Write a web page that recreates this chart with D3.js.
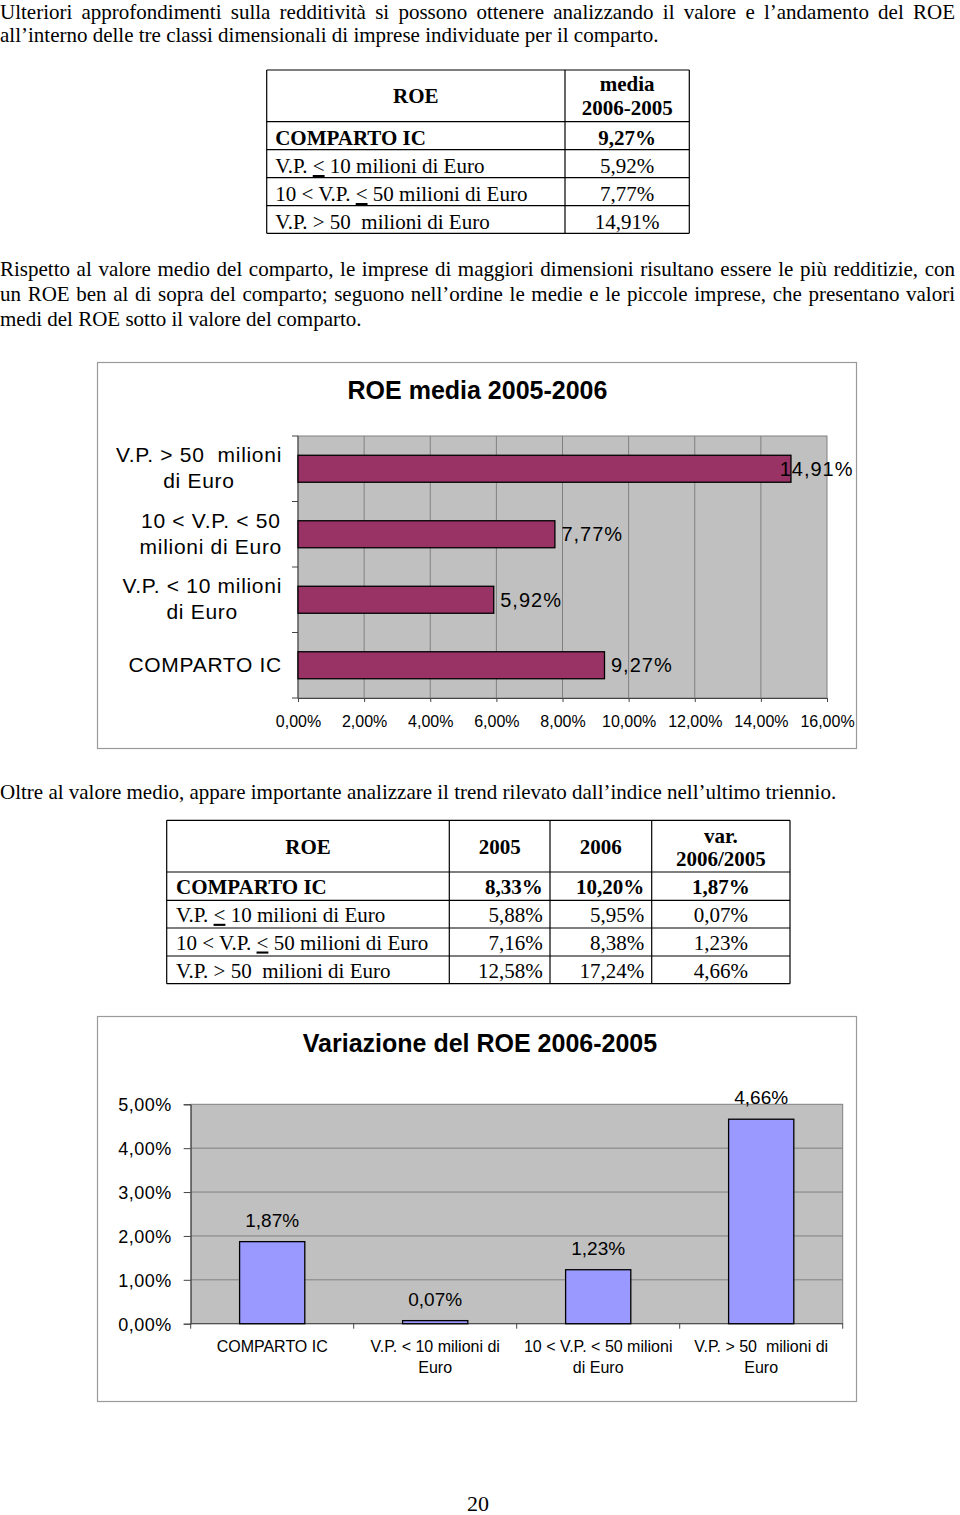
<!DOCTYPE html>
<html>
<head>
<meta charset="utf-8">
<script src="https://cdn.jsdelivr.net/npm/d3@7"></script>
<style>
  html, body { margin: 0; padding: 0; background: #fff; }
  svg { display: block; }
  text { white-space: pre; }
</style>
</head>
<body>
<svg id="page" width="960" height="1515"></svg>
<script>
// ---------------- DATA ----------------
const tableCategories = ["COMPARTO IC", "V.P. ≤ 10 milioni di Euro", "10 < V.P. ≤ 50 milioni di Euro", "V.P. > 50  milioni di Euro"];
const chartCategories = ["COMPARTO IC", "V.P. < 10 milioni di Euro", "10 < V.P. < 50 milioni di Euro", "V.P. > 50  milioni di Euro"];
const roeMedia = [9.27, 5.92, 7.77, 14.91];
const roe2005 = [8.33, 5.88, 7.16, 12.58];
const roe2006 = [10.20, 5.95, 8.38, 17.24];
const roeVar = [1.87, 0.07, 1.23, 4.66];
const xTicksChart1 = [0, 2, 4, 6, 8, 10, 12, 14, 16];
const yTicksChart2 = [0, 1, 2, 3, 4, 5];
const table1Header = ["ROE", "media\n2006-2005"];
const table2Header = ["ROE", "2005", "2006", "var.\n2006/2005"];
const chart1Title = "ROE media 2005-2006";
const chart2Title = "Variazione del ROE 2006-2005";
const para1 = ["Ulteriori approfondimenti sulla redditività si possono ottenere analizzando il valore e l’andamento del ROE",
               "all’interno delle tre classi dimensionali di imprese individuate per il comparto."];
const para2 = ["Rispetto al valore medio del comparto, le imprese di maggiori dimensioni risultano essere le più redditizie, con",
               "un ROE ben al di sopra del comparto; seguono nell’ordine le medie e le piccole imprese, che presentano valori",
               "medi del ROE sotto il valore del comparto."];
const para3 = ["Oltre al valore medio, appare importante analizzare il trend rilevato dall’indice nell’ultimo triennio."];
const pageNumber = "20";

// ---------------- SETUP ----------------
const SERIF = "'Liberation Serif', 'Times New Roman', serif";
const SANS = "'Liberation Sans', Arial, sans-serif";
const locale = d3.formatLocale({decimal: ",", thousands: ".", grouping: [3], currency: ["", "€"]});
const pct = v => locale.format(".2%")(v / 100);

const svg = d3.select("#page");
const meas = svg.append("text").attr("x", -1000).attr("y", -1000);
function measure(str, size, weight, family, ls) {
  meas.attr("font-size", size).attr("font-weight", weight || "normal")
      .attr("font-family", family).attr("letter-spacing", ls || 0).text(str);
  return meas.node().getComputedTextLength();
}
function wrap(str, maxW, size, family, ls) {
  const words = str.split(" ");
  const lines = [];
  let cur = words[0];
  for (let i = 1; i < words.length; i++) {
    const test = cur + " " + words[i];
    if (words[i] === "" || measure(test.trimEnd(), size, "normal", family, ls) <= maxW) cur = test;
    else { lines.push(cur.trimEnd()); cur = words[i]; }
  }
  lines.push(cur);
  return lines;
}

// ---------------- PARAGRAPHS ----------------
const P_SIZE = 21;
function drawPara(lines, baseline0, lineH, justifyW) {
  lines.forEach((ln, i) => {
    const t = svg.append("text").attr("x", 0).attr("y", baseline0 + i * lineH)
      .attr("font-family", SERIF).attr("font-size", P_SIZE).attr("fill", "#000").text(ln);
    if (justifyW && i < lines.length - 1) {
      const w = t.node().getComputedTextLength();
      if (w > justifyW) {
        t.attr("textLength", justifyW).attr("lengthAdjust", "spacingAndGlyphs");
      } else {
        const spaces = (ln.match(/ /g) || []).length;
        t.attr("word-spacing", (justifyW - w) / spaces);
      }
    }
  });
}
drawPara(para1, 19, 22.5, 955);
drawPara(para2, 276, 25, 955);
drawPara(para3, 799, 25, null);
svg.append("text").attr("x", 478).attr("y", 1511).attr("text-anchor", "middle")
  .attr("font-family", SERIF).attr("font-size", 22).text(pageNumber);

// ---------------- TABLE HELPERS ----------------
const T_SIZE = 21;
function tableText(g, str, x, y, anchor, bold) {
  const t = g.append("text").attr("x", x).attr("y", y).attr("text-anchor", anchor)
    .attr("font-family", SERIF).attr("font-size", T_SIZE).attr("font-weight", bold ? "bold" : "normal");
  const parts = str.split("≤");
  parts.forEach((p, i) => {
    if (i > 0) t.append("tspan").attr("text-decoration", "underline").text("<");
    t.append("tspan").text(p);
  });
  return t;
}
function grid(g, xs, ys) {
  ys.forEach(y => g.append("line").attr("x1", xs[0]).attr("x2", xs[xs.length - 1]).attr("y1", y).attr("y2", y));
  xs.forEach(x => g.append("line").attr("x1", x).attr("x2", x).attr("y1", ys[0]).attr("y2", ys[ys.length - 1]));
  g.selectAll("line").attr("stroke", "#000").attr("stroke-width", 1.2);
}

// ---------------- TABLE 1 ----------------
{
  const g = svg.append("g");
  const xs = [266.7, 565, 689.3];
  const ys = [70, 121.7, 149.7, 177.7, 205.7, 233.3];
  grid(g, xs, ys);
  tableText(g, table1Header[0], (xs[0] + xs[1]) / 2, 103.3, "middle", true);
  table1Header[1].split("\n").forEach((s, i) =>
    tableText(g, s, (xs[1] + xs[2]) / 2, 90.7 + i * 24.3, "middle", true));
  tableCategories.forEach((c, i) => {
    const y = ys[i + 1] + 23.3;
    tableText(g, c, xs[0] + 8.5, y, "start", i === 0);
    tableText(g, pct(roeMedia[i]), (xs[1] + xs[2]) / 2, y, "middle", i === 0);
  });
}

// ---------------- TABLE 2 ----------------
{
  const g = svg.append("g");
  const xs = [166.7, 449.3, 550, 651.7, 790];
  const ys = [820.3, 872, 900.3, 928, 956, 983.7];
  grid(g, xs, ys);
  table2Header.forEach((h, j) => {
    const ls = h.split("\n");
    const cx = (xs[j] + xs[j + 1]) / 2;
    if (ls.length === 1) tableText(g, ls[0], cx, 853.7, "middle", true);
    else ls.forEach((s, i) => tableText(g, s, cx, 843 + i * 22.5, "middle", true));
  });
  tableCategories.forEach((c, i) => {
    const y = ys[i + 1] + 21.5;
    const b = i === 0;
    tableText(g, c, xs[0] + 9.3, y, "start", b);
    tableText(g, pct(roe2005[i]), xs[2] - 7.3, y, "end", b);
    tableText(g, pct(roe2006[i]), xs[3] - 7.5, y, "end", b);
    tableText(g, pct(roeVar[i]), (xs[3] + xs[4]) / 2, y, "middle", b);
  });
}

// ---------------- CHART 1: horizontal bars ----------------
{
  const frame = {x: 97.5, y: 362.5, w: 759, h: 386};
  const g = svg.append("g");
  g.append("rect").attr("x", frame.x).attr("y", frame.y).attr("width", frame.w).attr("height", frame.h)
    .attr("fill", "#fff").attr("stroke", "#9a9a9a").attr("stroke-width", 1.2);
  const L = 298, R = 827, T = 436, B = 698;
  const x = d3.scaleLinear().domain([0, 16]).range([L, R]);
  const p = 0.588;
  const y = d3.scaleBand().domain(chartCategories.slice().reverse()).range([T, B]).paddingInner(p).paddingOuter(p / 2);
  g.append("text").attr("x", 477.5).attr("y", 399).attr("text-anchor", "middle")
    .attr("font-family", SANS).attr("font-size", 25).attr("font-weight", "bold").text(chart1Title);
  g.append("rect").attr("x", L).attr("y", T).attr("width", R - L).attr("height", B - T)
    .attr("fill", "#c0c0c0").attr("stroke", "#808080").attr("stroke-width", 1);
  g.selectAll(".gv").data(xTicksChart1.filter(d => d > 0 && d < 16)).enter().append("line")
    .attr("x1", d => x(d)).attr("x2", d => x(d)).attr("y1", T).attr("y2", B)
    .attr("stroke", "#808080").attr("stroke-width", 1);
  const xAxis = d3.axisBottom(x).tickValues(xTicksChart1).tickSize(4).tickFormat(d => pct(d));
  const ax = g.append("g").attr("transform", `translate(0,${B})`).call(xAxis);
  ax.select(".domain").attr("stroke", "#444");
  ax.selectAll(".tick line").attr("stroke", "#444");
  ax.selectAll(".tick text").attr("font-family", SANS).attr("font-size", 16).attr("fill", "#000")
    .attr("dy", null).attr("y", 28.7);
  const step = y.step();
  const bounds = d3.range(chartCategories.length + 1).map(i => T + i * step);
  g.append("line").attr("x1", L).attr("x2", L).attr("y1", T).attr("y2", B).attr("stroke", "#444");
  g.selectAll(".ty").data(bounds).enter().append("line")
    .attr("x1", L - 6).attr("x2", L).attr("y1", d => d).attr("y2", d => d).attr("stroke", "#444");
  chartCategories.forEach((c, i) => {
    g.append("rect").attr("x", x(0)).attr("y", y(c)).attr("width", x(roeMedia[i]) - x(0))
      .attr("height", y.bandwidth()).attr("fill", "#993366").attr("stroke", "#000").attr("stroke-width", 1.3);
    const lbl = pct(roeMedia[i]);
    const w = measure(lbl, 20, "normal", SANS, 1);
    const lx = Math.min(x(roeMedia[i]) + 6.5, frame.x + frame.w - 3 - w);
    g.append("text").attr("x", lx).attr("y", y(c) + y.bandwidth() / 2 + 7)
      .attr("font-family", SANS).attr("font-size", 20).attr("letter-spacing", 1).text(lbl);
    const LS = 0.7;
    const lines = wrap(c, 175, 21, SANS, LS);
    const maxW = d3.max(lines, s => measure(s, 21, "normal", SANS, LS));
    const cx = 282 - maxW / 2;
    const cy = y(c) + y.bandwidth() / 2;
    lines.forEach((s, k) => {
      g.append("text").attr("x", cx).attr("y", cy - (lines.length - 1) * 13 + 6.5 + k * 26)
        .attr("text-anchor", "middle").attr("font-family", SANS).attr("font-size", 21)
        .attr("letter-spacing", LS).text(s);
    });
  });
}

// ---------------- CHART 2: vertical bars ----------------
{
  const frame = {x: 97.5, y: 1016.5, w: 759, h: 385};
  const g = svg.append("g");
  g.append("rect").attr("x", frame.x).attr("y", frame.y).attr("width", frame.w).attr("height", frame.h)
    .attr("fill", "#fff").attr("stroke", "#9a9a9a").attr("stroke-width", 1.2);
  const L = 190.7, R = 842.7, T = 1104.3, B = 1323.7;
  const y = d3.scaleLinear().domain([0, 5]).range([B, T]);
  const x = d3.scaleBand().domain(chartCategories).range([L, R]).paddingInner(0.6).paddingOuter(0.3);
  g.append("text").attr("x", 480).attr("y", 1052).attr("text-anchor", "middle")
    .attr("font-family", SANS).attr("font-size", 25).attr("font-weight", "bold").text(chart2Title);
  g.append("rect").attr("x", L).attr("y", T).attr("width", R - L).attr("height", B - T)
    .attr("fill", "#c0c0c0").attr("stroke", "#808080").attr("stroke-width", 1);
  g.selectAll(".gh").data(yTicksChart2.filter(d => d > 0 && d < 5)).enter().append("line")
    .attr("x1", L).attr("x2", R).attr("y1", d => y(d)).attr("y2", d => y(d))
    .attr("stroke", "#808080").attr("stroke-width", 1);
  const yAxis = d3.axisLeft(y).tickValues(yTicksChart2).tickSize(7).tickFormat(d => pct(d));
  const ay = g.append("g").attr("transform", `translate(${L},0)`).call(yAxis);
  ay.select(".domain").attr("stroke", "#444");
  ay.selectAll(".tick line").attr("stroke", "#444");
  ay.selectAll(".tick text").attr("font-family", SANS).attr("font-size", 18).attr("letter-spacing", 0.5)
    .attr("fill", "#000").attr("dy", null).attr("y", 6.5).attr("x", -19);
  const step = x.step();
  const bounds = d3.range(chartCategories.length + 1).map(i => L + i * step);
  g.append("line").attr("x1", L).attr("x2", R).attr("y1", B).attr("y2", B).attr("stroke", "#444");
  g.selectAll(".tx").data(bounds).enter().append("line")
    .attr("x1", d => d).attr("x2", d => d).attr("y1", B).attr("y2", B + 5).attr("stroke", "#444");
  chartCategories.forEach((c, i) => {
    g.append("rect").attr("x", x(c)).attr("y", y(roeVar[i])).attr("width", x.bandwidth())
      .attr("height", y(0) - y(roeVar[i])).attr("fill", "#9999ff").attr("stroke", "#000").attr("stroke-width", 1.3);
    const cx = x(c) + x.bandwidth() / 2;
    g.append("text").attr("x", cx).attr("y", y(roeVar[i]) - 15).attr("text-anchor", "middle")
      .attr("font-family", SANS).attr("font-size", 19).text(pct(roeVar[i]));
    const lines = wrap(c, 160, 16, SANS);
    lines.forEach((s, k) => {
      g.append("text").attr("x", cx).attr("y", 1351.7 + k * 21.7).attr("text-anchor", "middle")
        .attr("font-family", SANS).attr("font-size", 16).text(s);
    });
  });
}
meas.remove();
</script>
</body>
</html>
